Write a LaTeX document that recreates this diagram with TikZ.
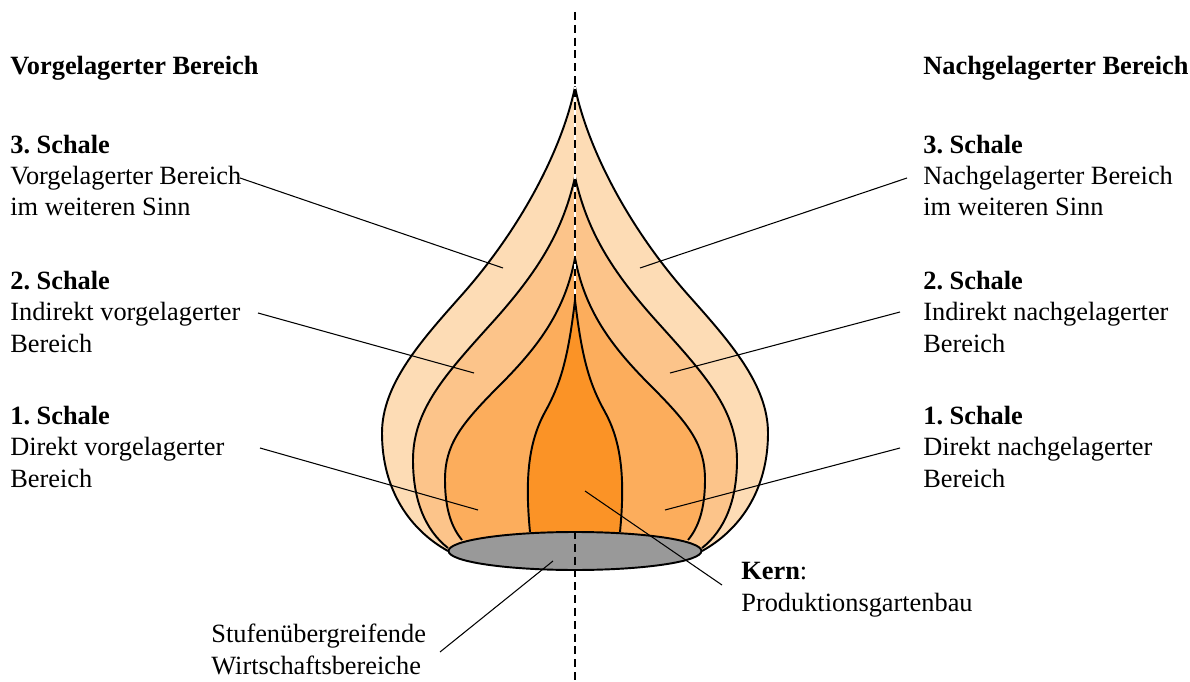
\documentclass[tikz,border=0pt]{standalone}
\usepackage{fontspec}
\setmainfont{Liberation Serif}
\usetikzlibrary{positioning, shapes.geometric}
\definecolor{ShellOut}{HTML}{FDDCB5}
\definecolor{ShellMid}{HTML}{FCC48A}
\definecolor{ShellIn}{HTML}{FCAD5C}
\definecolor{Core}{HTML}{FB9326}
\definecolor{Base}{HTML}{999999}
\frenchspacing

\newcommand{\outerpath}{(448,551) .. controls (410,530) and (382,490) .. (382,433)
  .. controls (382,385) and (420,342) .. (460,297)
  .. controls (520,230) and (562,150) .. (575,87)
  .. controls (588,150) and (630,230) .. (690,297)
  .. controls (730,342) and (768,385) .. (768,433)
  .. controls (768,490) and (740,530) .. (702,551)}
\newcommand{\midpath}{(448,548) .. controls (425,530) and (413,500) .. (413,460)
  .. controls (413,410) and (445,375) .. (490,325)
  .. controls (540,270) and (563,230) .. (575,177)
  .. controls (587,230) and (610,270) .. (660,325)
  .. controls (705,375) and (737,410) .. (737,460)
  .. controls (737,500) and (725,530) .. (702,548)}
\newcommand{\innerpath}{(462,540) .. controls (452,528) and (445,510) .. (445,480)
  .. controls (445,445) and (460,425) .. (500,385)
  .. controls (540,345) and (565,310) .. (575,258)
  .. controls (585,310) and (610,345) .. (650,385)
  .. controls (690,425) and (705,445) .. (705,480)
  .. controls (705,510) and (698,528) .. (688,540)}
\newcommand{\corepath}{(530,532) .. controls (525,480) and (528,443) .. (545,412)
  .. controls (560,385) and (568,360) .. (575,300)
  .. controls (582,360) and (590,385) .. (605,412)
  .. controls (622,443) and (625,480) .. (620,532)}

\begin{document}
\begin{tikzpicture}[x=0.02cm, y=-0.02cm,
    txt/.style={anchor=base west, align=left, inner sep=0pt, font=\fontsize{15}{17.9}\selectfont},
    rim/.style={line width=1.1pt, line join=round},
    lead/.style={line width=0.6pt},
    axis/.style={line width=1.1pt, dash pattern=on 4.5pt off 2.8pt}
  ]
    \useasboundingbox (0,0) rectangle (1190,682);

    \coordinate (axtop) at (575,12);
    \coordinate (tip) at (575,87);
    \coordinate (coretip) at (575,300);
    \coordinate (axbot) at (575,682);

    \fill[ShellOut] \outerpath -- (575,560) -- cycle;
    \draw[rim] \outerpath;
    \fill[ShellMid] \midpath -- (575,560) -- cycle;
    \draw[rim] \midpath;
    \fill[ShellIn] \innerpath -- (575,560) -- cycle;
    \draw[rim] \innerpath;

    \draw[white, line width=1.1pt] (tip) -- (coretip);
    \draw[axis] (axtop) -- (coretip);

    \fill[Core] \corepath -- (575,560) -- cycle;
    \draw[rim] \corepath;

    \node[draw, line width=1.1pt, fill=Base, ellipse, minimum width=5.06cm, minimum height=0.76cm, inner sep=0pt] (basis) at (575,551) {};
    \draw[axis] (basis.north) -- (axbot);

    \node[txt] (upstream) at (10,75) {\textbf{Vorgelagerter Bereich}};
    \node[txt] (downstream) at (923,75) {\textbf{Nachgelagerter Bereich}};

    \node[txt] (s3L) at (10,216) {\textbf{3. Schale}\\Vorgelagerter Bereich\\im weiteren Sinn};
    \node[txt] (s2L) at (10,352) {\textbf{2. Schale}\\Indirekt vorgelagerter\\Bereich};
    \node[txt] (s1L) at (10,487) {\textbf{1. Schale}\\Direkt vorgelagerter\\Bereich};

    \node[txt] (s3R) at (923,216) {\textbf{3. Schale}\\Nachgelagerter Bereich\\im weiteren Sinn};
    \node[txt] (s2R) at (923,352) {\textbf{2. Schale}\\Indirekt nachgelagerter\\Bereich};
    \node[txt] (s1R) at (923,487) {\textbf{1. Schale}\\Direkt nachgelagerter\\Bereich};

    \node[txt] (kern) at (741,611) {\textbf{Kern}:\\Produktionsgartenbau};
    \node[txt] (stufen) at (211,674) {Stufenübergreifende\\Wirtschaftsbereiche};

    \coordinate (f3L) at (503,268);
    \coordinate (f3R) at (640,268);
    \coordinate (f2L) at (474,373);
    \coordinate (f2R) at (670,373);
    \coordinate (f1L) at (478,510);
    \coordinate (f1R) at (665,510);
    \coordinate (fK) at (585,491);
    \coordinate (fB) at (553,561);

    \coordinate (t3L) at (240,178);
    \coordinate (t3R) at (907,178);
    \coordinate (t2L) at (258,313);
    \coordinate (t2R) at (900,312);
    \coordinate (t1L) at (260,448);
    \coordinate (t1R) at (900,448);
    \coordinate (tK) at (722,585);
    \coordinate (tB) at (440,652);

    \draw[lead] (t3L) -- (f3L);
    \draw[lead] (t3R) -- (f3R);
    \draw[lead] (t2L) -- (f2L);
    \draw[lead] (t2R) -- (f2R);
    \draw[lead] (t1L) -- (f1L);
    \draw[lead] (t1R) -- (f1R);
    \draw[lead] (tK) -- (fK);
    \draw[lead] (tB) -- (fB);
\end{tikzpicture}
\end{document}
